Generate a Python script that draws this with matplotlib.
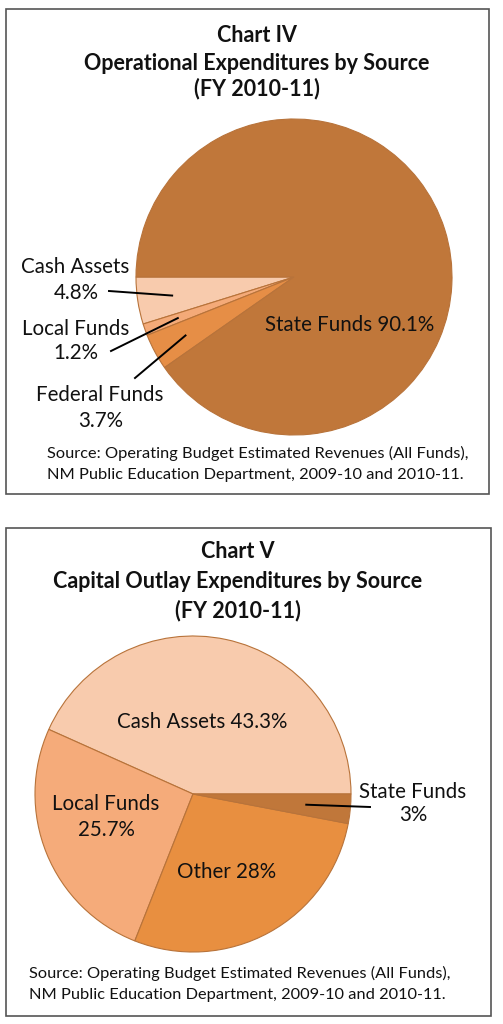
import matplotlib

matplotlib.use("Agg")
import matplotlib.pyplot as plt  # noqa: E402
import numpy as np  # noqa: E402
from matplotlib.patches import Rectangle  # noqa: E402

# ---- data -------------------------------------------------------------
op_labels = ["Cash Assets", "Local Funds", "Federal Funds", "State Funds"]
op_values = [4.8, 1.2, 3.7, 90.1]
op_colors = ["#F8CBAD", "#F4AA78", "#E68E46", "#C0773A"]

cap_labels = ["Cash Assets", "Local Funds", "Other", "State Funds"]
cap_values = [43.3, 25.7, 28, 3]
cap_colors = ["#F8CBAD", "#F5AB7A", "#E88F40", "#C0773A"]

source_lines = ["Source: Operating Budget Estimated Revenues (All Funds),",
                "NM Public Education Department, 2009-10 and 2010-11."]

W, H = 503, 1024
FONT = "Lato"
EDGE = "#B8733A"
TITLE_SIZE = 15.5
LABEL_SIZE = 14.8
SOURCE_SIZE = 11.8

fig = plt.figure(figsize=(W / 100, H / 100), dpi=100)
ax = fig.add_axes([0, 0, 1, 1])


def Y(py):
    # pixel row (from top) -> data y
    return H - py


def text(x, py, s, size, bold=False, ha="center"):
    ax.text(x, Y(py), s, ha=ha, va="center", fontsize=size, family=FONT,
            fontweight="bold" if bold else "normal", color="#111111")


def edge_point(wedges, i, frac, center, r):
    w = wedges[i]
    mid = np.deg2rad((w.theta1 + w.theta2) / 2)
    return center[0] + frac * r * np.cos(mid), center[1] + frac * r * np.sin(mid)


# ---- panel borders ----------------------------------------------------
for x0, y0, x1, y1 in [(6, 9, 489, 494), (6, 528, 491, 1016)]:
    ax.add_patch(Rectangle((x0, Y(y1)), x1 - x0, y1 - y0, fill=False,
                           edgecolor="#555555", linewidth=1.2))

# ---- Chart IV ----------------------------------------------------------
text(257, 36, "Chart IV", TITLE_SIZE, bold=True)
text(257, 63, "Operational Expenditures by Source", TITLE_SIZE, bold=True)
text(257, 89, "(FY 2010-11)", TITLE_SIZE, bold=True)

c1, r1 = (294, Y(277)), 158
w1, _ = ax.pie(op_values, colors=op_colors, startangle=180, counterclock=True,
               center=c1, radius=r1,
               wedgeprops=dict(edgecolor=EDGE, linewidth=0.8))

text(75, 267, "Cash Assets", LABEL_SIZE)
text(76, 293, "4.8%", LABEL_SIZE)
text(76, 329, "Local Funds", LABEL_SIZE)
text(76, 353, "1.2%", LABEL_SIZE)
text(100, 395, "Federal Funds", LABEL_SIZE)
text(101, 421, "3.7%", LABEL_SIZE)
text(350, 325, "State Funds 90.1%", LABEL_SIZE)

for i, start in [(0, (109, 291)), (1, (111, 351)), (2, (135, 378))]:
    ex, ey = edge_point(w1, i, 0.78, c1, r1)
    ax.plot([start[0], ex], [Y(start[1]), ey], color="black", linewidth=1.4)

for k, line in enumerate(source_lines):
    text(47, 453 + 22 * k, line, SOURCE_SIZE, ha="left")

# ---- Chart V -----------------------------------------------------------
text(238, 552, "Chart V", TITLE_SIZE, bold=True)
text(238, 582, "Capital Outlay Expenditures by Source", TITLE_SIZE, bold=True)
text(238, 611, "(FY 2010-11)", TITLE_SIZE, bold=True)

c2, r2 = (193, Y(794)), 158
w2, _ = ax.pie(cap_values, colors=cap_colors, startangle=0, counterclock=True,
               center=c2, radius=r2,
               wedgeprops=dict(edgecolor=EDGE, linewidth=0.8))

text(202, 722, f"{cap_labels[0]} {cap_values[0]}%", LABEL_SIZE)
text(106, 804, cap_labels[1], LABEL_SIZE)
text(106, 830, f"{cap_values[1]}%", LABEL_SIZE)
text(227, 872, f"{cap_labels[2]} {cap_values[2]}%", LABEL_SIZE)
text(413, 792, cap_labels[3], LABEL_SIZE)
text(413, 815, f"{cap_values[3]}%", LABEL_SIZE)

ex, ey = edge_point(w2, 3, 0.72, c2, r2)
ax.plot([370, ex], [Y(807), ey], color="black", linewidth=1.4)

for k, line in enumerate(source_lines):
    text(29, 973 + 22 * k, line, SOURCE_SIZE, ha="left")

ax.set_xlim(0, W)
ax.set_ylim(0, H)
ax.set_aspect("auto")
ax.axis("off")

fig.savefig("out.png", dpi=100, facecolor="white")
